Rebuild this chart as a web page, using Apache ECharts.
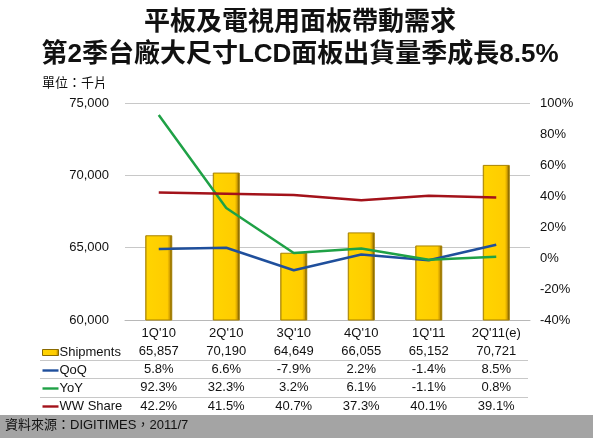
<!DOCTYPE html>
<html><head><meta charset="utf-8">
<script src="https://cdn.jsdelivr.net/npm/echarts@6/dist/echarts.min.js"></script>
<style>html,body{margin:0;padding:0;background:#fff}#c{width:600px;height:442px}</style>
</head><body><div id="c"></div>
<script>
const categories = ["1Q'10","2Q'10","3Q'10","4Q'10","1Q'11","2Q'11(e)"];
const shipments = [65857,70190,64649,66055,65152,70721];
const qoq = [5.8,6.6,-7.9,2.2,-1.4,8.5];
const yoy = [92.3,32.3,3.2,6.1,-1.1,0.8];
const wwShare = [42.2,41.5,40.7,37.3,40.1,39.1];
const leftTicks = {min:60000, max:75000, interval:5000};
const rightTicks = {min:-40, max:100, interval:20};

const fmtK = v => v.toLocaleString('en-US');
const fmtP = v => v.toFixed(1) + '%';
const FONT = '"Liberation Sans", Arial, sans-serif';
const MIX = '"Liberation Sans", "Noto Sans CJK TC", sans-serif';
const LINE_ICON = 'path://M0,0h16v2.4h-16z';

function rowAxis(data, offset){
  return {
    type:'category', gridIndex:0, position:'bottom', offset:offset, data:data,
    axisLine:{show:false, onZero:false}, axisTick:{show:false}, splitLine:{show:false},
    axisLabel:{color:'#111', fontSize:13, fontFamily:FONT, margin:3}
  };
}
function sepLine(y){
  return {type:'line', shape:{x1:40, y1:y, x2:528, y2:y}, style:{stroke:'#c8c8c8', lineWidth:1}};
}

const chart = echarts.init(document.getElementById('c'), null, {renderer:'canvas'});
chart.setOption({
  animation:false,
  backgroundColor:'#fff',
  title:{
    text:'平板及電視用面板帶動需求\n第2季台廠大尺寸LCD面板出貨量季成長8.5%',
    left:'center', top:2,
    textStyle:{fontFamily:MIX, fontSize:26, fontWeight:'bold', color:'#111', lineHeight:32}
  },
  grid:{left:125, right:70, top:103, bottom:122},
  legend:{
    orient:'vertical', left:37, top:341, itemGap:5, itemWidth:16, itemHeight:6,
    symbolKeepAspect:true,
    textStyle:{fontSize:13, fontFamily:FONT, color:'#111', padding:[0,0,0,-4]},
    data:[{name:'Shipments', icon:'rect', itemStyle:{borderColor:'#8a6a00', borderWidth:1}},
          {name:'QoQ', icon:LINE_ICON},
          {name:'YoY', icon:LINE_ICON},{name:'WW Share', icon:LINE_ICON}]
  },
  xAxis:[
    {type:'category', data:categories, gridIndex:0,
     axisLine:{onZero:false, lineStyle:{color:'#b8b8b8'}}, axisTick:{show:false},
     axisLabel:{color:'#111', fontSize:13, fontFamily:FONT, margin:7}},
    rowAxis(shipments.map(fmtK), 22),
    rowAxis(qoq.map(fmtP), 40),
    rowAxis(yoy.map(fmtP), 58),
    rowAxis(wwShare.map(fmtP), 77)
  ],
  yAxis:[
    {type:'value', min:leftTicks.min, max:leftTicks.max, interval:leftTicks.interval,
     axisLine:{show:false}, axisTick:{show:false},
     splitLine:{lineStyle:{color:'#c8c8c8'}},
     axisLabel:{color:'#111', fontSize:13, fontFamily:FONT, margin:16, formatter:fmtK}},
    {type:'value', min:rightTicks.min, max:rightTicks.max, interval:rightTicks.interval,
     position:'right', axisLine:{show:false}, axisTick:{show:false}, splitLine:{show:false},
     axisLabel:{color:'#111', fontSize:13, fontFamily:FONT, margin:10, formatter:'{value}%'}}
  ],
  series:[
    {name:'Shipments', type:'bar', data:shipments, barWidth:27, xAxisIndex:0, yAxisIndex:0,
     itemStyle:{
       color:new echarts.graphic.LinearGradient(0,0,1,0,[
         {offset:0,color:'#b88f00'},{offset:0.07,color:'#ffd400'},{offset:0.82,color:'#ffcc00'},
         {offset:0.9,color:'#d6a300'},{offset:1,color:'#4e3c00'}]),
       borderColor:'#a88200', borderWidth:1}},
    {name:'QoQ', type:'line', data:qoq, yAxisIndex:1, symbol:'none',
     lineStyle:{color:'#1f4f9c', width:2.5}, itemStyle:{color:'#1f4f9c'}},
    {name:'YoY', type:'line', data:yoy, yAxisIndex:1, symbol:'none',
     lineStyle:{color:'#1fa146', width:2.5}, itemStyle:{color:'#1fa146'}},
    {name:'WW Share', type:'line', data:wwShare, yAxisIndex:1, symbol:'none',
     lineStyle:{color:'#a3121a', width:2.5}, itemStyle:{color:'#a3121a'}}
  ],
  graphic:[
    {type:'text', left:42, top:77, style:{text:'單位：千片', font:'13px ' + MIX, fill:'#111'}},
    sepLine(360.5), sepLine(378.5), sepLine(397.5),
    {type:'rect', left:0, top:415, shape:{width:593, height:23}, style:{fill:'#a4a4a4'}, z:-1},
    {type:'text', left:5, top:419, style:{text:'資料來源：DIGITIMES，2011/7', font:'13px ' + MIX, fill:'#111'}}
  ]
});
</script></body></html>
